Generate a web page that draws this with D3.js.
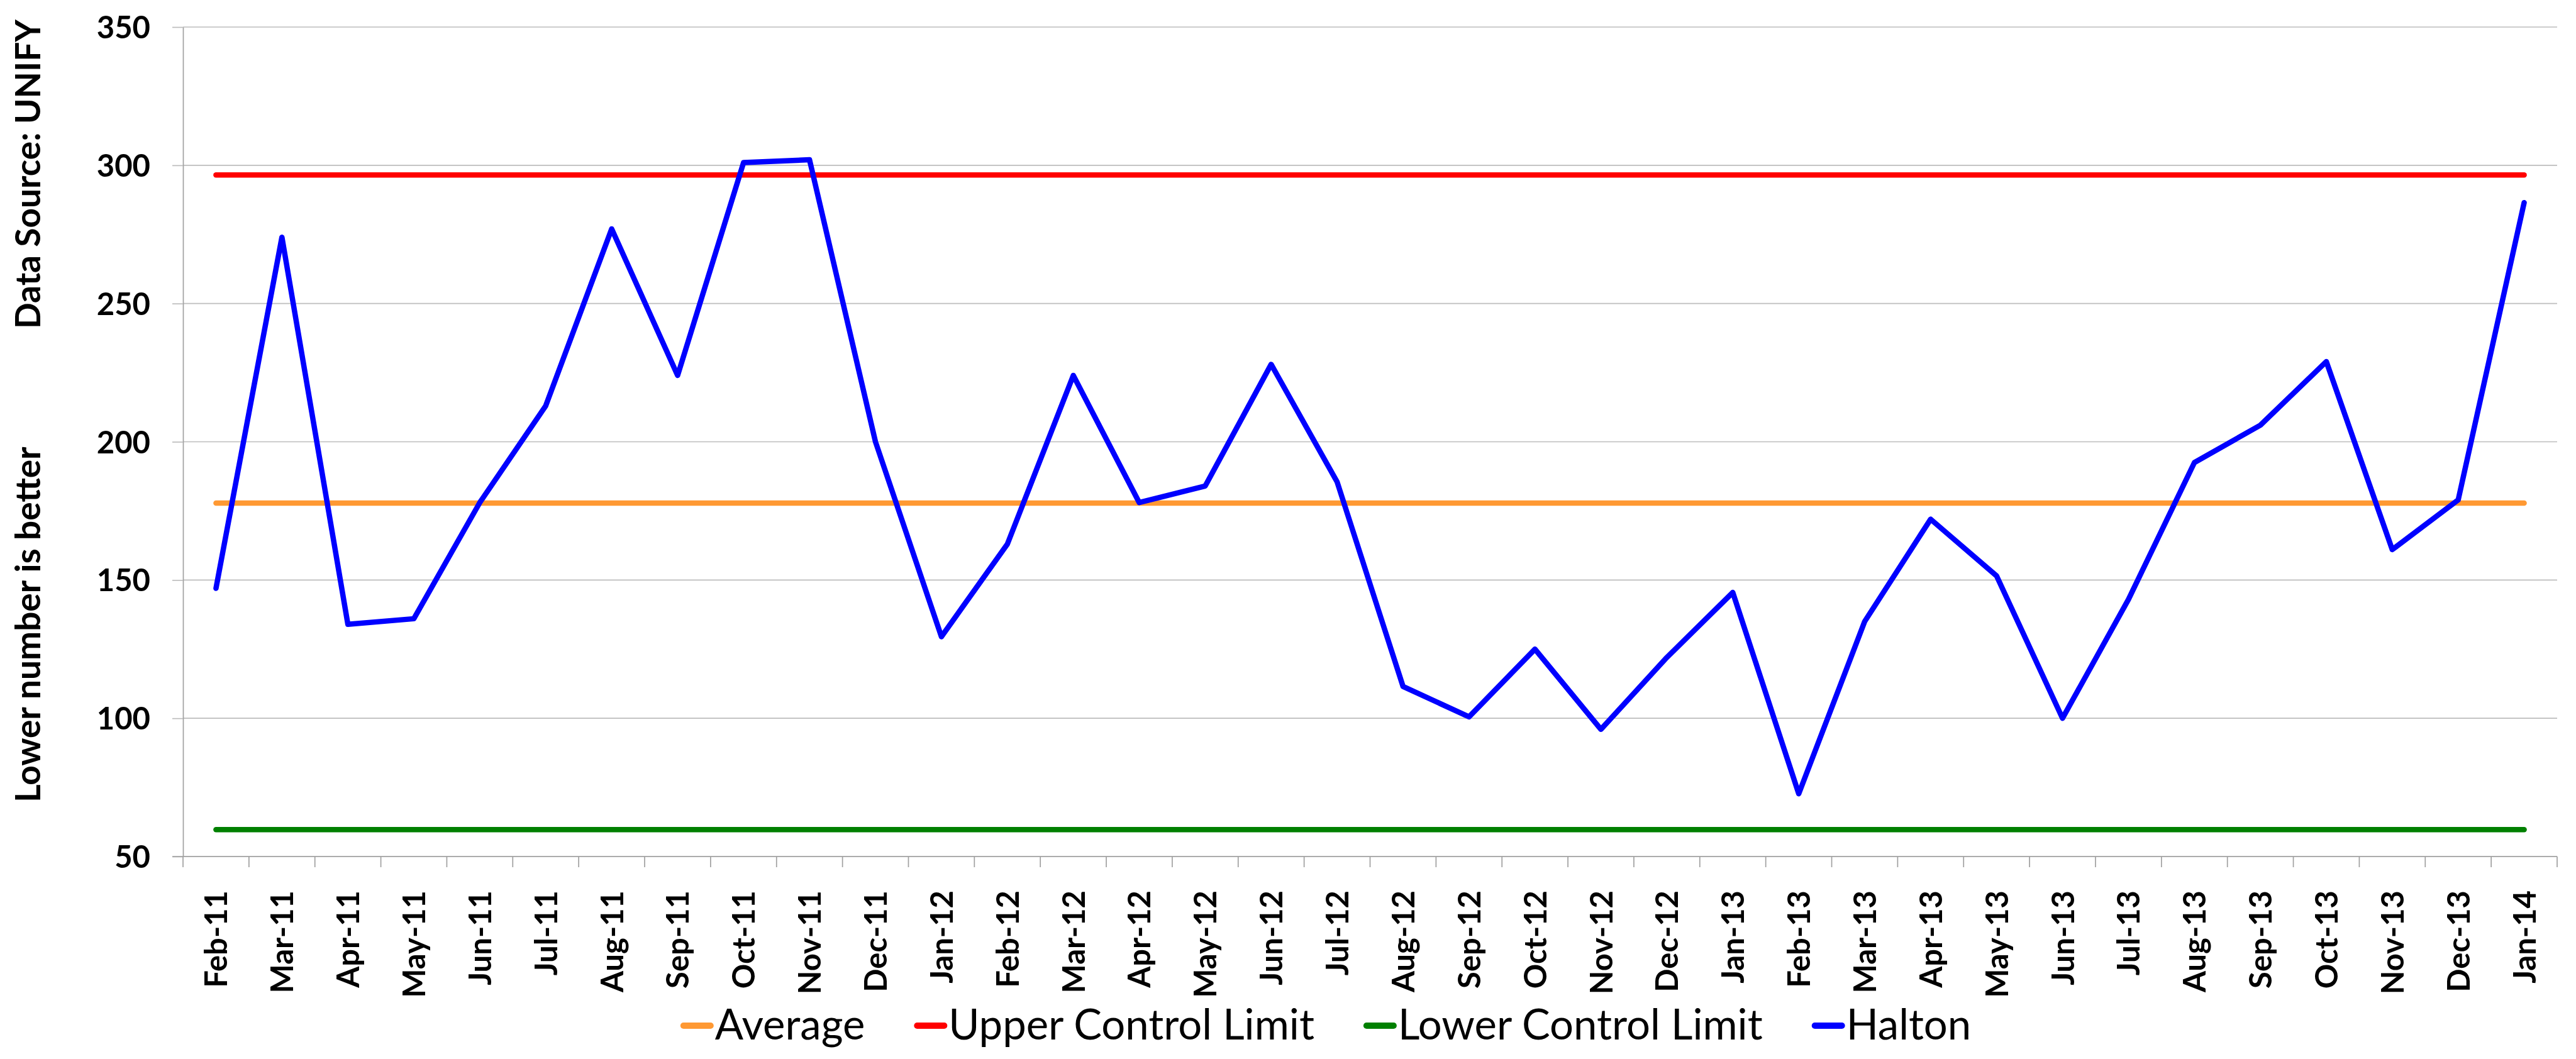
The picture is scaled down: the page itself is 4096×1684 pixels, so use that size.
<!DOCTYPE html>
<html>
<head>
<meta charset="utf-8">
<script src="https://cdn.jsdelivr.net/npm/d3@7"></script>
<style>
  body { margin: 0; background: #fff; }
  text { font-family: Lato, "Open Sans", sans-serif; fill: #000; }
</style>
</head>
<body>
<script>
// chart data
var months = ["Feb-11", "Mar-11", "Apr-11", "May-11", "Jun-11", "Jul-11", "Aug-11", "Sep-11", "Oct-11", "Nov-11", "Dec-11", "Jan-12",
              "Feb-12", "Mar-12", "Apr-12", "May-12", "Jun-12", "Jul-12", "Aug-12", "Sep-12", "Oct-12", "Nov-12", "Dec-12", "Jan-13",
              "Feb-13", "Mar-13", "Apr-13", "May-13", "Jun-13", "Jul-13", "Aug-13", "Sep-13", "Oct-13", "Nov-13", "Dec-13", "Jan-14"];
var halton = [147, 274, 134, 136, 178, 213, 277, 224, 301, 302, 200, 129.5,
              163, 224, 178, 184, 228, 185.5, 111.5, 100.5, 125, 96, 122, 145.5,
              72.7, 135, 172, 151.5, 100, 143, 192.5, 206, 229, 161, 179, 286.5];
var average = 177.8;
var upperLimit = 296.5;
var lowerLimit = 59.7;
var yTicks = [50, 100, 150, 200, 250, 300, 350];
var seriesNames = ["Average", "Upper Control Limit", "Lower Control Limit", "Halton"];
var seriesColors = ["#ff9933", "#ff0000", "#008000", "#0000ff"];

var _width = 4096;
var _height = 1684;
var margin = {left: 291, right: 4066, top: 43, bottom: 1362};

var svg = d3.select("body").append("svg")
    .attr("width", _width)
    .attr("height", _height);

var x = d3.scaleBand().domain(months).range([margin.left, margin.right]).padding(0);
var y = d3.scaleLinear().domain([50, 350]).range([margin.bottom, margin.top]);
function cx(m) { return x(m) + x.bandwidth() / 2; }

// gridlines
svg.append("g").selectAll("line")
    .data(yTicks)
    .enter().append("line")
    .attr("x1", margin.left)
    .attr("x2", margin.right)
    .attr("y1", function (d) { return y(d); })
    .attr("y2", function (d) { return y(d); })
    .attr("stroke", "#bdbdbd")
    .attr("stroke-width", 1.7);

// y axis
var yAxis = svg.append("g")
    .attr("transform", "translate(" + margin.left + ",0)")
    .call(d3.axisLeft(y).tickValues(yTicks).tickSize(17).tickPadding(35).tickSizeOuter(0));
yAxis.select(".domain").attr("stroke", "#a0a0a0").attr("stroke-width", 1.7);
yAxis.selectAll(".tick line").attr("stroke", "#bdbdbd").attr("stroke-width", 1.7);
yAxis.selectAll(".tick text")
    .attr("font-size", 49)
    .attr("font-weight", "bold")
    .attr("font-family", "Lato, sans-serif")
    .attr("dy", "0.36em");

// x axis line and ticks on band edges
var edges = months.map(function (m) { return x(m); }).concat([margin.right]);
svg.append("line")
    .attr("x1", margin.left - 17).attr("x2", margin.right)
    .attr("y1", margin.bottom).attr("y2", margin.bottom)
    .attr("stroke", "#a0a0a0").attr("stroke-width", 1.7);
svg.append("g").selectAll("line")
    .data(edges)
    .enter().append("line")
    .attr("x1", function (d) { return d; })
    .attr("x2", function (d) { return d; })
    .attr("y1", margin.bottom)
    .attr("y2", margin.bottom + 17)
    .attr("stroke", "#a0a0a0")
    .attr("stroke-width", 1.7);

svg.append("g").selectAll("text")
    .data(months)
    .enter().append("text")
    .attr("transform", function (d) { return "translate(" + (cx(d) + 18) + "," + (margin.bottom + 54) + ") rotate(-90)"; })
    .attr("text-anchor", "end")
    .attr("font-size", 49)
    .attr("font-weight", "bold")
    .text(function (d) { return d; });

// axis titles
svg.append("text")
    .attr("transform", "translate(64,31) rotate(-90)")
    .attr("text-anchor", "end")
    .attr("font-size", 55)
    .attr("font-weight", "bold")
    .text("Data Source: UNIFY");
svg.append("text")
    .attr("transform", "translate(64,1276) rotate(-90)")
    .attr("text-anchor", "start")
    .attr("font-size", 55)
    .attr("font-weight", "bold")
    .text("Lower number is better");

// series
var line = d3.line()
    .x(function (d) { return cx(d.m); })
    .y(function (d) { return y(d.v); });

var constants = [average, upperLimit, lowerLimit];
constants.forEach(function (c, i) {
    svg.append("path")
        .datum(months.map(function (m) { return {m: m, v: c}; }))
        .attr("d", line)
        .attr("fill", "none")
        .attr("stroke", seriesColors[i])
        .attr("stroke-width", 8.5)
        .attr("stroke-linecap", "round");
});

svg.append("path")
    .datum(months.map(function (m, i) { return {m: m, v: halton[i]}; }))
    .attr("d", line)
    .attr("fill", "none")
    .attr("stroke", seriesColors[3])
    .attr("stroke-width", 8.5)
    .attr("stroke-linejoin", "round")
    .attr("stroke-linecap", "round");

// legend
var legend = svg.append("g");
var lx = 0;
seriesNames.forEach(function (name, i) {
    var g = legend.append("g").attr("transform", "translate(" + lx + ",0)");
    g.append("line")
        .attr("x1", 5).attr("x2", 48)
        .attr("y1", 1631).attr("y2", 1631)
        .attr("stroke", seriesColors[i])
        .attr("stroke-width", 10)
        .attr("stroke-linecap", "round");
    var t = g.append("text")
        .attr("x", 55)
        .attr("y", 1653)
        .attr("font-size", 67)
        .text(name);
    lx += 55 + t.node().getComputedTextLength() + 78;
});
var legendWidth = lx - 78;
legend.attr("transform", "translate(" + (2108 - legendWidth / 2) + ",0)");
</script>
</body>
</html>
